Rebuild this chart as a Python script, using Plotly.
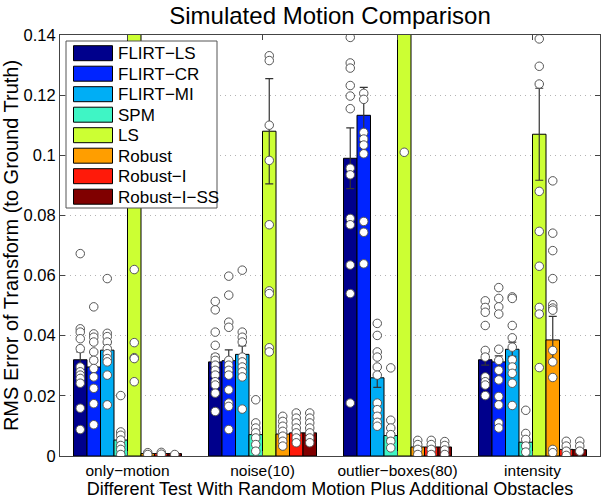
import plotly.graph_objects as go

categories = ["only\u2212motion", "noise(10)", "outlier\u2212boxes(80)", "intensity"]
methods = ["FLIRT\u2212LS", "FLIRT\u2212CR", "FLIRT\u2212MI", "SPM", "LS", "Robust", "Robust\u2212I", "Robust\u2212I\u2212SS"]
colors = ["#00008C", "#0024FF", "#00AEF5", "#3FF5C5", "#CCFF33", "#FF9E00", "#FF1A0A", "#800000"]

# mean values per method (order of categories)
mean_flirt_ls = [0.0320, 0.0313, 0.0990, 0.0320]
mean_flirt_cr = [0.0296, 0.0317, 0.1133, 0.0313]
mean_flirt_mi = [0.0352, 0.0338, 0.0260, 0.0355]
mean_spm = [0.0053, 0.0071, 0.0068, 0.0046]
mean_ls = [0.2500, 0.1080, 0.3000, 0.1070]
mean_robust = [0.0008, 0.0073, 0.0030, 0.0386]
mean_robust_i = [0.0008, 0.0077, 0.0030, 0.0022]
mean_robust_i_ss = [0.0008, 0.0077, 0.0030, 0.0021]

# standard errors
err_flirt_ls = [0.0026, 0.0025, 0.0101, 0.0018]
err_flirt_cr = [0.0030, 0.0036, 0.0093, 0.0020]
err_flirt_mi = [0.0020, 0.0028, 0.0032, 0.0024]
err_spm = [0.0008, 0.0010, 0.0010, 0.0010]
err_ls = [0.0000, 0.0175, 0.0000, 0.0153]
err_robust = [0.0002, 0.0008, 0.0004, 0.0078]
err_robust_i = [0.0002, 0.0008, 0.0004, 0.0004]
err_robust_i_ss = [0.0002, 0.0008, 0.0004, 0.0004]

# individual trial values
pts_flirt_ls = [
    [0.0673, 0.0423, 0.0412, 0.039, 0.0357, 0.0296, 0.028, 0.0269, 0.0258, 0.0242, 0.0159, 0.0088],
    [0.0514, 0.0486, 0.0412, 0.0368, 0.0329, 0.0318, 0.0302, 0.0285, 0.0269, 0.0247, 0.0236, 0.0209, 0.0148],
    [0.1392, 0.1307, 0.129, 0.1232, 0.1197, 0.1155, 0.0957, 0.0935, 0.079, 0.0769, 0.0635, 0.054, 0.0176],
    [0.0516, 0.0494, 0.0478, 0.0434, 0.0351, 0.0329, 0.0263, 0.0247, 0.0236, 0.0201],
]
pts_flirt_cr = [
    [0.0496, 0.0406, 0.0395, 0.0379, 0.0346, 0.0318, 0.0291, 0.0263, 0.0225, 0.0174, 0.0104],
    [0.0598, 0.0535, 0.0445, 0.0428, 0.0318, 0.0302, 0.0285, 0.0269, 0.022, 0.0176, 0.0165, 0.0088],
    [0.1206, 0.1186, 0.1076, 0.1054, 0.1034, 0.1005, 0.078, 0.0744, 0.0639],
    [0.056, 0.0524, 0.0496, 0.0472, 0.0355, 0.0318, 0.0285, 0.0253, 0.0198, 0.017, 0.011, 0.0093],
]
pts_flirt_mi = [
    [0.059, 0.0408, 0.0397, 0.0379, 0.0357, 0.034, 0.0324, 0.0313, 0.0269, 0.017],
    [0.0618, 0.0412, 0.0395, 0.0379, 0.0329, 0.0313, 0.0296, 0.028, 0.0263, 0.0156],
    [0.0441, 0.0401, 0.0346, 0.0329, 0.0296, 0.0269, 0.0176, 0.0154, 0.0132, 0.0112, 0.0099],
    [0.0529, 0.0524, 0.0434, 0.0393, 0.0362, 0.032, 0.0296, 0.0275, 0.0242, 0.0168],
]
pts_spm = [
    [0.0201, 0.008, 0.0069, 0.0053, 0.0035, 0.0022, 0.0005],
    [0.0187, 0.011, 0.0093, 0.0077, 0.006, 0.0038, 0.0016],
    [0.0293, 0.0119, 0.0093, 0.0071, 0.0049, 0.0027],
    [0.0152, 0.0075, 0.0055, 0.0033, 0.0013],
]
pts_ls = [
    [0.062, 0.0377, 0.0327, 0.0324, 0.0247],
    [0.1331, 0.1315, 0.11, 0.0983, 0.0769, 0.0549, 0.054, 0.036, 0.0346],
    [0.101],
    [0.1387, 0.1296, 0.1237, 0.088, 0.0747, 0.0631, 0.0494, 0.0472, 0.0294],
]
pts_robust = [
    [0.0011, 0.0005],
    [0.0132, 0.0115, 0.0099, 0.0082, 0.0066, 0.0049, 0.0033],
    [0.0052, 0.0038, 0.0022, 0.0005],
    [0.0915, 0.0741, 0.0683, 0.059, 0.0503, 0.0492, 0.0485, 0.0351, 0.0313, 0.0261, 0.0022, 0.0011],
]
pts_robust_i = [
    [0.0012, 0.0006],
    [0.0143, 0.0126, 0.011, 0.0093, 0.0077, 0.006, 0.0044],
    [0.0052, 0.0038, 0.0022, 0.0005],
    [0.0049, 0.0033, 0.0016, 0.0002],
]
pts_robust_i_ss = [
    [0.0005],
    [0.0143, 0.0126, 0.011, 0.0093, 0.0077, 0.006, 0.0044],
    [0.0048, 0.0035, 0.002, 0.0005],
    [0.0049, 0.0033, 0.0016],
]

means = [mean_flirt_ls, mean_flirt_cr, mean_flirt_mi, mean_spm, mean_ls, mean_robust, mean_robust_i, mean_robust_i_ss]
errs = [err_flirt_ls, err_flirt_cr, err_flirt_mi, err_spm, err_ls, err_robust, err_robust_i, err_robust_i_ss]
pts = [pts_flirt_ls, pts_flirt_cr, pts_flirt_mi, pts_spm, pts_ls, pts_robust, pts_robust_i, pts_robust_i_ss]

n = len(methods)
bw = 0.8 / n
FONT = "Liberation Sans, Arial, sans-serif"

W, H = 602, 500
ML, MR, MT, MB = 60, 2, 35, 44
PW, PH = W - ML - MR, H - MT - MB


def px2x(p):
    return (p - ML) / PW


def px2y(p):
    return (H - MB - p) / PH


fig = go.Figure()
for k in range(n):
    off = (k - (n - 1) / 2) * bw
    xs = [i + 1 + off for i in range(len(categories))]
    fig.add_trace(go.Bar(
        x=xs, y=means[k], width=bw, name=methods[k], showlegend=False,
        marker=dict(color=colors[k], line=dict(color="black", width=1)),
        error_y=dict(type="data", array=errs[k], color="#333333", thickness=1.2, width=4),
    ))

for k in range(n):
    off = (k - (n - 1) / 2) * bw
    px, py = [], []
    for i in range(len(categories)):
        for v in pts[k][i]:
            px.append(i + 1 + off)
            py.append(v)
    fig.add_trace(go.Scatter(
        x=px, y=py, mode="markers", showlegend=False, hoverinfo="skip",
        marker=dict(symbol="circle", size=8.5, color="white", line=dict(color="#555555", width=1)),
    ))

# legend box (drawn like the MATLAB legend: large swatches, tight rows)
shapes = [dict(type="rect", xref="paper", yref="paper",
               x0=px2x(66), x1=px2x(217), y0=px2y(208), y1=px2y(41),
               line=dict(color="#555555", width=1), fillcolor="white", layer="above")]
annotations = []
for k in range(n):
    top = 45.7 + k * 20.5
    shapes.append(dict(type="rect", xref="paper", yref="paper",
                       x0=px2x(73.5), x1=px2x(112.5), y0=px2y(top + 15), y1=px2y(top),
                       line=dict(color="black", width=1), fillcolor=colors[k], layer="above"))
    annotations.append(dict(xref="paper", yref="paper", x=px2x(115.5), y=px2y(top + 8.2),
                            xanchor="left", yanchor="middle", showarrow=False,
                            text=methods[k], font=dict(size=17, family=FONT, color="black")))

fig.update_layout(
    width=W, height=H,
    margin=dict(l=ML, r=MR, t=MT, b=MB, autoexpand=False),
    barmode="overlay",
    plot_bgcolor="white", paper_bgcolor="white",
    font=dict(family=FONT, color="black", size=16),
    title=dict(text="Simulated Motion Comparison", x=330 / W, xanchor="center",
               y=1 - 16 / H, yanchor="middle", yref="container",
               font=dict(size=24, family=FONT, color="black"), automargin=False),
    showlegend=False,
    shapes=shapes,
    annotations=annotations,
)
fig.update_xaxes(
    range=[0.5, 4.5], tickvals=[1, 2, 3, 4], ticktext=categories,
    showgrid=False, zeroline=False, showline=True, linecolor="#444444", linewidth=1,
    mirror="ticks", ticks="inside", ticklen=5, tickcolor="#444444",
    tickfont=dict(size=15.5, family=FONT), automargin=False,
    title=dict(text="Different Test With Random Motion Plus Additional Obstacles",
               font=dict(size=18, family=FONT), standoff=2),
)
fig.update_yaxes(
    range=[0, 0.14], dtick=0.02, tick0=0,
    showgrid=True, gridcolor="#B4B4B4", griddash="1px,4px", gridwidth=1, zeroline=False,
    showline=True, linecolor="#444444", linewidth=1,
    mirror="ticks", ticks="inside", ticklen=5, tickcolor="#444444",
    tickfont=dict(size=16.5, family=FONT), automargin=False,
    title=dict(text="RMS Error of Transform (to Ground Truth)", font=dict(size=20, family=FONT), standoff=3),
)

fig.write_html("out.html", config={"displayModeBar": False},
               post_script="document.body.style.margin='0px';")
